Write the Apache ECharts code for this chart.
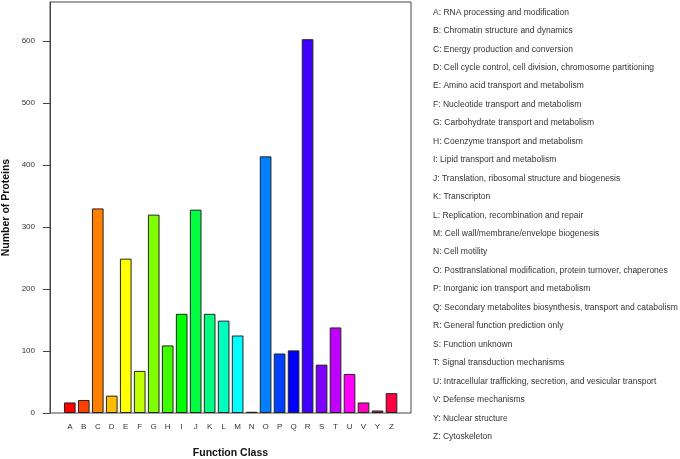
<!DOCTYPE html>
<html>
<head>
<meta charset="utf-8">
<script src="https://cdn.jsdelivr.net/npm/echarts@6/dist/echarts.min.js"></script>
<style>
html,body{margin:0;padding:0;background:#fff;}
#chart{width:680px;height:459px;}
</style>
</head>
<body>
<div id="chart"></div>
<script>
var categories = ['A','B','C','D','E','F','G','H','I','J','K','L','M','N','O','P','Q','R','S','T','U','V','Y','Z'];
var descriptions = [
  'RNA processing and modification',
  'Chromatin structure and dynamics',
  'Energy production and conversion',
  'Cell cycle control, cell division, chromosome partitioning',
  'Amino acid transport and metabolism',
  'Nucleotide transport and metabolism',
  'Carbohydrate transport and metabolism',
  'Coenzyme transport and metabolism',
  'Lipid transport and metabolism',
  'Translation, ribosomal structure and biogenesis',
  'Transcripton',
  'Replication, recombination and repair',
  'Cell wall/membrane/envelope biogenesis',
  'Cell motility',
  'Posttranslational modification, protein turnover, chaperones',
  'Inorganic ion transport and metabolism',
  'Secondary metabolites biosynthesis, transport and catabolism',
  'General function prediction only',
  'Function unknown',
  'Signal transduction mechanisms',
  'Intracellular trafficking, secretion, and vesicular transport',
  'Defense mechanisms',
  'Nuclear structure',
  'Cytoskeleton'
];
var proteinCounts = [17, 21, 330, 28, 249, 68, 320, 109, 160, 328, 160, 149, 125, 2, 414, 96, 101, 603, 78, 138, 63, 17, 4, 32];
var barColors = ['#FF0000','#FF4000','#FF8000','#FFBF00','#FFFF00','#BFFF00','#80FF00','#40FF00',
                 '#00FF00','#00FF40','#00FF80','#00FFBF','#00FFFF','#00BFFF','#0080FF','#0040FF',
                 '#0000FF','#4000FF','#8000FF','#BF00FF','#FF00FF','#FF00BF','#FF0080','#FF0040'];
var yTicks = [0, 100, 200, 300, 400, 500, 600];
var yMax = 663;
var xTitle = 'Function Class';
var yTitle = 'Number of Proteins';

var chart = echarts.init(document.getElementById('chart'), null, {renderer: 'canvas'});
var fontFam = '"Liberation Sans", Arial, Helvetica, sans-serif';

var legendGraphics = categories.map(function (c, i) {
  return {
    type: 'text',
    x: 433,
    y: 12.3 + i * 18.45,
    style: {
      text: c + ': ' + descriptions[i],
      fill: '#333',
      font: '8.5px ' + fontFam,
      textAlign: 'left',
      textVerticalAlign: 'middle'
    }
  };
});

var option = {
  backgroundColor: '#fff',
  animation: false,
  grid: [
    {left: 50, top: 2, width: 361, height: 411, show: true, borderColor: '#444', borderWidth: 1, backgroundColor: 'transparent'},
    {left: 62.8, top: 2, width: 335.7, height: 411}
  ],
  xAxis: [
    {type: 'value', gridIndex: 0, show: false, min: 0, max: 1},
    {
      type: 'category', gridIndex: 1, data: categories,
      axisLine: {show: false}, axisTick: {show: false},
      axisLabel: {color: '#333', fontSize: 8, fontFamily: fontFam, margin: 10, interval: 0}
    }
  ],
  yAxis: [
    {
      type: 'value', gridIndex: 0, min: 0, max: yMax,
      splitLine: {show: false},
      axisLine: {show: true, lineStyle: {color: '#444', width: 1}},
      axisTick: {show: true, length: 7, lineStyle: {color: '#444'}, customValues: yTicks},
      axisLabel: {color: '#333', fontSize: 8, fontFamily: fontFam, margin: 15, customValues: yTicks}
    },
    {type: 'value', gridIndex: 1, min: 0, max: yMax, show: false, splitLine: {show: false}}
  ],
  series: [{
    type: 'bar',
    xAxisIndex: 1, yAxisIndex: 1,
    data: proteinCounts.map(function (v, i) {
      return {value: v, itemStyle: {color: barColors[i]}};
    }),
    barWidth: '83.3%',
    itemStyle: {borderColor: '#222', borderWidth: 1}
  }],
  graphic: [
    {
      type: 'text', x: 230.5, y: 453,
      style: {text: xTitle, fill: '#111', font: 'bold 10.5px ' + fontFam, textAlign: 'center', textVerticalAlign: 'middle'}
    },
    {
      type: 'text', x: 6, y: 207.5, rotation: Math.PI / 2,
      style: {text: yTitle, fill: '#111', font: 'bold 10.5px ' + fontFam, textAlign: 'center', textVerticalAlign: 'middle'}
    }
  ].concat(legendGraphics)
};
chart.setOption(option);
</script>
</body>
</html>
